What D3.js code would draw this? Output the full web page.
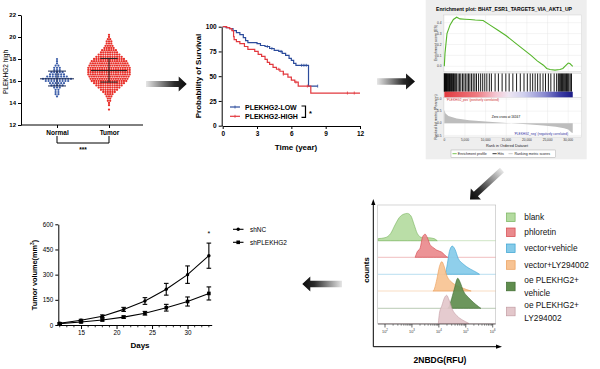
<!DOCTYPE html>
<html><head><meta charset="utf-8">
<script src="https://cdn.jsdelivr.net/npm/d3@7"></script>
<style>body{margin:0;background:#fff}svg{display:block;font-family:"Liberation Sans",Arial,sans-serif}</style>
</head><body><svg id="c" width="600" height="369"></svg>
<script>
// ---------- DATA ----------
// Panel A: expression scatter (value, number of samples at that value)
const scatterGroups = ["Normal", "Tumor"];
const scatterTicks = [12, 14, 16, 18, 20, 22];
const normalBins = [[14.6,1],[14.8,2],[15.0,2],[15.2,2],[15.4,3],[15.6,5],[15.8,6],[16.0,9],[16.2,11],[16.4,8],[16.6,6],[16.8,5],[17.0,3],[17.2,3],[17.4,2],[17.6,1],[17.8,1],[18.0,1]];
const tumorBins = [[13.4,1],[13.8,1],[14.0,1],[14.2,2],[14.4,2],[14.6,3],[14.8,4],[15.0,6],[15.2,8],[15.4,10],[15.6,12],[15.8,14],[16.0,16],[16.2,17],[16.4,18],[16.6,19],[16.8,19],[17.0,19],[17.2,19],[17.4,18],[17.6,17],[17.8,16],[18.0,14],[18.2,12],[18.4,10],[18.6,8],[18.8,7],[19.0,5],[19.2,4],[19.4,3],[19.6,3],[19.8,2],[20.0,1],[20.2,1]];
const normalStats = [16.2, 15.55, 16.9];   // mean, -SD, +SD
const tumorStats = [16.95, 15.9, 18.05];

// Panel B: Kaplan-Meier (time in years, survival %)
const kmTicksX = [0, 3, 6, 9, 12];
const kmTicksY = [0, 25, 50, 75, 100];
const kmLow = [[0,100],[0.3,99],[0.6,98],[0.9,96],[1.2,94],[1.5,92],[1.8,89],[2.0,86],[2.2,84],[3.0,83],[3.3,81],[3.7,80],[4.1,78],[4.5,76],[4.9,75],[5.2,73],[5.5,71],[5.8,68],[6.0,66],[6.2,63],[6.4,61],[7.5,40],[8.3,40]];
const kmHigh = [[0,100],[0.35,99],[0.6,98],[0.8,96],[0.95,90],[1.0,87],[1.2,85],[1.5,83],[1.9,80],[2.2,77],[2.8,75],[3.1,72],[3.4,70],[3.7,67],[3.9,64],[4.1,62],[4.4,59],[4.7,57],[5.0,55],[5.3,52],[5.7,49],[6.0,46],[6.3,44],[6.6,40],[7.7,33],[12,33]];
const kmLowCensor = [3.9, 4.3, 5.1, 6.9, 7.1, 7.3, 8.3];
const kmHighCensor = [4.9, 5.3, 6.4, 7.4, 10.9, 11.5];
const kmLabels = ["PLEKHG2-LOW", "PLEKHG2-HIGH"];

// Panel C: GSEA
const gseaTitle = "Enrichment plot: BHAT_ESR1_TARGETS_VIA_AKT1_UP";
const esCurve = [[0,0],[170,0.12],[650,0.30],[1400,0.38],[2200,0.43],[3000,0.45],[3800,0.435],[5000,0.432],[6200,0.43],[7500,0.425],[9400,0.42],[11000,0.38],[13000,0.33],[15000,0.28],[17000,0.22],[19000,0.16],[21000,0.10],[22500,0.05],[24000,0.01],[24800,-0.02],[25600,-0.03],[26800,-0.035],[28000,-0.03],[28700,-0.02],[29200,0.0],[30000,0.03],[30400,0.025],[31100,0.0]];
const gseaHits = [0,80,180,300,420,540,680,820,960,1100,1250,1400,1560,1720,1880,2050,2220,2400,2600,2800,3000,3350,3700,4000,4400,4750,5100,5500,5850,6200,6600,7000,7400,7800,8300,8800,9300,9800,10300,10900,11400,12300,13100,14000,14900,15700,16600,17500,18400,19300,20100,20800,21400,22000,22600,23200,23900,24500,25200,25800,26600,27200,27600,27800,28000,28200,28400,28600,28800,29000,29200,29400,29600,29800,30000,30200,30500,30800];
const rankedMetric = [[0,0.55],[300,0.4],[1000,0.3],[3000,0.2],[6000,0.13],[10000,0.07],[16167,0],[20000,-0.04],[24000,-0.09],[27000,-0.14],[29000,-0.2],[30000,-0.26],[30800,-0.38],[31100,-0.4]];
const esTicks = [0, 0.1, 0.2, 0.3, 0.4];
const rankTicks = [1.0, 0.5, 0.0, -0.5];
const rankXTicks = [0, 5000, 10000, 15000, 20000, 25000, 30000];
const gseaLegend = ["Enrichment profile", "Hits", "Ranking metric scores"];

// Panel D: flow cytometry histograms (log10 RFU, relative count)
const flowGroups = ["blank", "phloretin", "vector+vehicle", "vector+LY294002", "oe PLEKHG2+\nvehicle", "oe PLEKHG2+\nLY294002"];
const flowCurves = [
  [[1.75,7],[2.0,10],[2.21,24],[2.37,52],[2.53,77],[2.71,89],[2.83,91],[2.96,83],[3.08,54],[3.20,24],[3.36,11],[3.61,10],[3.82,7],[3.94,0]],
  [[3.12,0],[3.20,19],[3.30,30],[3.40,69],[3.49,77],[3.57,66],[3.67,43],[3.80,32],[3.92,24],[4.11,17],[4.29,2],[4.33,0]],
  [[4.20,0],[4.23,2],[4.32,37],[4.39,76],[4.50,94],[4.60,83],[4.72,53],[4.91,34],[5.16,18],[5.41,6],[5.51,0]],
  [[3.78,0],[3.80,1],[3.92,37],[4.02,81],[4.11,98],[4.19,84],[4.29,53],[4.48,29],[4.67,18],[4.91,9],[5.16,1],[5.2,0]],
  [[4.33,0],[4.35,1],[4.44,22],[4.57,63],[4.70,100],[4.79,87],[4.91,58],[5.10,36],[5.28,20],[5.47,6],[5.56,0]],
  [[3.98,0],[4.02,33],[4.11,59],[4.21,86],[4.29,94],[4.38,78],[4.50,47],[4.67,26],[4.89,11],[5.10,1],[5.12,0]]
];
const flowDecades = [2, 3, 4, 5, 6];

// Panel E: tumor growth
const days = [12, 15, 18, 21, 24, 27, 30, 33];
const shNC = [10, 28, 52, 93, 143, 213, 300, 413];
const shNCErr = [4, 6, 8, 12, 20, 35, 52, 75];
const shPL = [8, 18, 30, 47, 70, 103, 140, 188];
const shPLErr = [4, 5, 6, 7, 11, 20, 27, 39];
const volTicks = [0, 150, 300, 450, 600];
const dayTicks = [15, 20, 25, 30];
const tumorSeries = ["shNC", "shPLEKHG2"];

// ---------- DRAW ----------
const svg = d3.select("#c");
const defs = svg.append("defs");
svg.append("rect").attr("width", 600).attr("height", 369).attr("fill", "#fff");
const FONT = "Liberation Sans, Arial, sans-serif";

function styleAxis(g, fs, bold) {
  g.attr("font-family", FONT).attr("font-size", fs);
  g.select(".domain").attr("stroke", "#000").attr("stroke-width", 1);
  g.selectAll(".tick line").attr("stroke", "#000").attr("stroke-width", 1);
  g.selectAll(".tick text").attr("fill", "#000").attr("font-weight", bold ? "bold" : "normal");
}
function txt(g, x, y, s, fs, opts = {}) {
  const t = g.append("text").attr("x", x).attr("y", y).attr("font-size", fs).attr("font-family", FONT)
    .attr("fill", opts.fill || "#000").attr("text-anchor", opts.anchor || "start")
    .attr("font-weight", opts.bold ? "bold" : "normal").text(s);
  if (opts.rot) t.attr("transform", `rotate(${opts.rot},${x},${y})`);
  return t;
}

// ===== Panel A =====
const pA = svg.append("g");
const yA = d3.scaleLinear().domain([12, 22]).range([125, 15]);
const xA = d3.scalePoint().domain(scatterGroups).range([57, 109]);
pA.append("g").attr("transform", "translate(21,0)")
  .call(d3.axisLeft(yA).tickValues(scatterTicks).tickSize(3).tickSizeOuter(0).tickPadding(2))
  .call(g => styleAxis(g, 6, true));
pA.append("line").attr("x1", 21).attr("x2", 143).attr("y1", 125).attr("y2", 125).attr("stroke", "#000");
pA.append("g").attr("transform", "translate(0,125)")
  .call(d3.axisBottom(xA).tickSize(3).tickSizeOuter(0).tickPadding(2))
  .call(g => { styleAxis(g, 6.5, true); g.select(".domain").remove(); });
txt(pA, 8, 72, "PLEKHG2 high", 6.5, { anchor: "middle", rot: -90 });

function swarm(bins, cat, sp) {
  const pts = [];
  bins.forEach(([v, n]) => { for (let i = 0; i < n; i++) pts.push([xA(cat) + (i - (n - 1) / 2) * sp, yA(v)]); });
  return pts;
}
pA.append("g").selectAll("circle").data(swarm(normalBins, "Normal", 2.8)).join("circle")
  .attr("cx", d => d[0]).attr("cy", d => d[1]).attr("r", 1.1).attr("fill", "#3a5ca8");
pA.append("g").selectAll("circle").data(swarm(tumorBins, "Tumor", 2.3)).join("circle")
  .attr("cx", d => d[0]).attr("cy", d => d[1]).attr("r", 1.15).attr("fill", "#e8302a");
function statBars(cat, st, mw, cw, col) {
  const cx = xA(cat);
  pA.append("line").attr("x1", cx - mw).attr("x2", cx + mw).attr("y1", yA(st[0])).attr("y2", yA(st[0])).attr("stroke", col).attr("stroke-width", 1);
  [st[1], st[2]].forEach(v => pA.append("line").attr("x1", cx - cw).attr("x2", cx + cw).attr("y1", yA(v)).attr("y2", yA(v)).attr("stroke", col).attr("stroke-width", 1));
  pA.append("line").attr("x1", cx).attr("x2", cx).attr("y1", yA(st[1])).attr("y2", yA(st[2])).attr("stroke", col).attr("stroke-width", 1);
}
statBars("Normal", normalStats, 17, 9, "#1b2b55");
statBars("Tumor", tumorStats, 18, 8.7, "#222");
pA.append("path").attr("d", `M${xA("Normal")},136V143H${xA("Tumor")}V136`).attr("fill", "none").attr("stroke", "#000").attr("stroke-width", 1);
txt(pA, (xA("Normal") + xA("Tumor")) / 2, 152, "***", 6.5, { anchor: "middle", bold: true });

// ===== Panel B : KM =====
const pB = svg.append("g");
const xB = d3.scaleLinear().domain([0, 12]).range([222.7, 360]);
const yB = d3.scaleLinear().domain([0, 100]).range([125.7, 26.7]);
pB.append("g").attr("transform", "translate(221.7,0)")
  .call(d3.axisLeft(yB).tickValues(kmTicksY).tickSize(3).tickSizeOuter(0).tickPadding(2))
  .call(g => styleAxis(g, 6.5, true));
pB.append("g").attr("transform", "translate(0,126)")
  .call(d3.axisBottom(xB).tickValues(kmTicksX).tickSize(3).tickSizeOuter(0).tickPadding(2))
  .call(g => styleAxis(g, 6.5, true));
pB.select("g:last-child .domain");
pB.append("line").attr("x1", 221.7).attr("x2", 222.7).attr("y1", 126).attr("y2", 126).attr("stroke", "#000");
txt(pB, 296, 150, "Time (year)", 8, { anchor: "middle", bold: true });
txt(pB, 200.5, 76, "Probability of Survival", 8, { anchor: "middle", bold: true, rot: -90 });
const kmLine = d3.line().x(d => xB(d[0])).y(d => yB(d[1])).curve(d3.curveStepAfter);
const kmCols = ["#2c4c9c", "#e2383e"];
[kmLow, kmHigh].forEach((s, i) => pB.append("path").attr("d", kmLine(s)).attr("fill", "none").attr("stroke", kmCols[i]).attr("stroke-width", 1.2));
function survAt(s, t) { let v = s[0][1]; s.forEach(p => { if (p[0] <= t) v = p[1]; }); return v; }
[[kmLowCensor, kmLow], [kmHighCensor, kmHigh]].forEach(([c, s], i) => {
  pB.append("g").selectAll("line").data(c).join("line")
    .attr("x1", d => xB(d)).attr("x2", d => xB(d)).attr("y1", d => yB(survAt(s, d)) - 1.5).attr("y2", d => yB(survAt(s, d)) + 1.5)
    .attr("stroke", kmCols[i]).attr("stroke-width", 0.8);
});
kmLabels.forEach((l, i) => {
  const y = 107 + i * 9.3;
  pB.append("line").attr("x1", 230).attr("x2", 240).attr("y1", y).attr("y2", y).attr("stroke", kmCols[i]).attr("stroke-width", 1.2);
  pB.append("line").attr("x1", 235).attr("x2", 235).attr("y1", y - 1.5).attr("y2", y + 1.5).attr("stroke", kmCols[i]).attr("stroke-width", 0.8);
  txt(pB, 245, y + 2.5, l, 7, { bold: true });
});
pB.append("path").attr("d", "M301.5,106H305.5V117.3H301.5").attr("fill", "none").attr("stroke", "#000").attr("stroke-width", 1.2);
txt(pB, 309, 116, "*", 7.5, { bold: true });

// ===== Panel C : GSEA =====
const pC = svg.append("g");
pC.append("rect").attr("x", 425.7).attr("y", 0).attr("width", 161).attr("height", 159.3).attr("fill", "#eeeeee");
txt(pC, 504, 11, gseaTitle, 5.1, { anchor: "middle", bold: true });
const xC = d3.scaleLinear().domain([0, 30000]).range([444.3, 568.2]);
const yES = d3.scaleLinear().domain([0, 0.4]).range([66.3, 22.7]);
const yR = d3.scaleLinear().domain([0, 1]).range([123.3, 99]);
const CL = 443.7, CR = 581.7;
[[15, 71.7], [73.3, 97.3], [97.3, 137]].forEach(([a, b]) =>
  pC.append("rect").attr("x", CL).attr("y", a).attr("width", CR - CL).attr("height", b - a).attr("fill", "#fff").attr("stroke", "#c8c8c8").attr("stroke-width", 0.4));
// grid
rankXTicks.forEach(t => {
  [[15, 71.7], [97.3, 137]].forEach(([a, b]) => pC.append("line").attr("x1", xC(t)).attr("x2", xC(t)).attr("y1", a).attr("y2", b).attr("stroke", "#e4e4e4").attr("stroke-width", 0.4));
});
esTicks.forEach(t => pC.append("line").attr("x1", CL).attr("x2", CR).attr("y1", yES(t)).attr("y2", yES(t)).attr("stroke", "#e4e4e4").attr("stroke-width", 0.4));
rankTicks.forEach(t => pC.append("line").attr("x1", CL).attr("x2", CR).attr("y1", yR(t)).attr("y2", yR(t)).attr("stroke", "#e4e4e4").attr("stroke-width", 0.4));
// ES line
pC.append("path").attr("d", d3.line().x(d => xC(d[0])).y(d => yES(d[1]))(esCurve)).attr("fill", "none").attr("stroke", "#55b52a").attr("stroke-width", 1.1);
// hits
pC.append("g").selectAll("line").data(gseaHits).join("line")
  .attr("x1", d => xC(d)).attr("x2", d => xC(d)).attr("y1", 73.5).attr("y2", 91.7).attr("stroke", "#000").attr("stroke-width", 0.9);
// color bar
const cg = defs.append("linearGradient").attr("id", "rb");
[[0, "#e23a3f"], [0.25, "#ee7a80"], [0.4, "#f4c6d2"], [0.5, "#eee6f2"], [0.62, "#cfcfee"], [0.78, "#8a8ad0"], [0.9, "#3d3da6"], [1, "#1b1b86"]]
  .forEach(([o, c]) => cg.append("stop").attr("offset", o).attr("stop-color", c));
pC.append("rect").attr("x", xC(0)).attr("y", 91.7).attr("width", xC(31100) - xC(0)).attr("height", 5.6).attr("fill", "url(#rb)");
// ranked metric
pC.append("path").attr("d", d3.area().x(d => xC(d[0])).y0(yR(0)).y1(d => yR(d[1]))(rankedMetric)).attr("fill", "#bdbdbd");
txt(pC, 506, 117.5, "Zero cross at 16167", 3.2, { anchor: "middle" });
txt(pC, 446.5, 101.3, "'PLEKHG2_pos' (positively correlated)", 3.1, { fill: "#d0302f" });
txt(pC, 568, 134.5, "'PLEKHG2_neg' (negatively correlated)", 3.1, { fill: "#3030a0", anchor: "end" });
// ticks
esTicks.forEach(t => txt(pC, 441.5, yES(t) + 1.1, t.toFixed(1), 3.2, { anchor: "end", fill: "#333" }));
rankTicks.forEach(t => txt(pC, 441.5, yR(t) + 1.1, t.toFixed(1), 3.2, { anchor: "end", fill: "#333" }));
rankXTicks.forEach(t => txt(pC, xC(t), 141.2, d3.format(",")(t), 3.2, { anchor: "middle", fill: "#333" }));
txt(pC, 507, 146.8, "Rank in Ordered Dataset", 3.8, { anchor: "middle", fill: "#222" });
txt(pC, 436.5, 43, "Enrichment score (ES)", 3.6, { anchor: "middle", rot: -90, fill: "#222" });
txt(pC, 436.5, 117, "Ranked list metric (Pearson)", 3.6, { anchor: "middle", rot: -90, fill: "#222" });
// legend
pC.append("rect").attr("x", 451).attr("y", 150).attr("width", 104.7).attr("height", 7.3).attr("fill", "#fff").attr("stroke", "#999").attr("stroke-width", 0.4);
const glx = [[452.5, 457.8, "#55b52a"], [492.5, 497.6, "#000"], [508.5, 514.5, "#bbb"]];
gseaLegend.forEach((l, i) => {
  pC.append("line").attr("x1", glx[i][0]).attr("x2", glx[i][0] + 4.2).attr("y1", 153.7).attr("y2", 153.7).attr("stroke", glx[i][2]).attr("stroke-width", 0.8);
  txt(pC, glx[i][1], 155, l, 3.6, { fill: "#222" });
});

// ===== Panel D : flow =====
const pD = svg.append("g");
const xD = d3.scaleLinear().domain([2, 6]).range([385, 492.7]);
const hD = d3.scaleLinear().domain([0, 100]).range([0, 30]);
const baselines = [240.7, 257.3, 274.3, 291, 308.3, 323.5];
const fFill = ["#b4dba0", "#ea8a8d", "#86cbe9", "#f7c393", "#5f8d4e", "#e3c7cb"];
const fStroke = ["#77b35c", "#d4474c", "#3aa3d2", "#eb9c55", "#3c6a2e", "#c29ba2"];
pD.append("rect").attr("x", 377.7).attr("y", 205).attr("width", 118).attr("height", 119).attr("fill", "#fff").attr("stroke", "#bbb").attr("stroke-width", 0.6);
flowCurves.forEach((c, i) => {
  const b = baselines[i];
  pD.append("line").attr("x1", 378).attr("x2", 495.5).attr("y1", b).attr("y2", b).attr("stroke", fStroke[i]).attr("stroke-opacity", 0.45).attr("stroke-width", 0.8);
  const ar = d3.area().x(d => xD(d[0])).y0(b).y1(d => b - hD(d[1])).curve(d3.curveMonotoneX);
  pD.append("path").attr("d", ar(c)).attr("fill", fFill[i]).attr("fill-opacity", 0.92).attr("stroke", fStroke[i]).attr("stroke-width", 0.6);
});
// ticks on bottom
flowDecades.forEach((d, i) => {
  pD.append("line").attr("x1", xD(d)).attr("x2", xD(d)).attr("y1", 324).attr("y2", 327.5).attr("stroke", "#000").attr("stroke-width", 0.6);
  if (i < flowDecades.length - 1) for (let k = 2; k < 10; k++) {
    const xv = xD(d + Math.log10(k));
    pD.append("line").attr("x1", xv).attr("x2", xv).attr("y1", 324).attr("y2", 325.8).attr("stroke", "#000").attr("stroke-width", 0.4);
  }
  const t = pD.append("text").attr("x", xD(d)).attr("y", 333).attr("font-size", 3.8).attr("font-family", FONT).attr("text-anchor", "middle").attr("fill", "#333");
  t.append("tspan").text("10");
  t.append("tspan").attr("dy", -1.6).attr("font-size", 2.8).text(d);
});
pD.append("line").attr("x1", 378).attr("x2", 495.5).attr("y1", 324).attr("y2", 324).attr("stroke", "#000").attr("stroke-width", 0.5);
// arrow axes
pD.append("path").attr("d", "M373.3,346.7V203").attr("stroke", "#000").attr("stroke-width", 1).attr("fill", "none");
pD.append("path").attr("d", "M373.3,346.7H498").attr("stroke", "#000").attr("stroke-width", 1).attr("fill", "none");
pD.append("path").attr("d", "M373.3,199L371.2,205L375.4,205Z").attr("fill", "#000");
pD.append("path").attr("d", "M502,346.7L496,344.6L496,348.8Z").attr("fill", "#000");
txt(pD, 369, 270, "counts", 7.8, { anchor: "middle", bold: true, rot: -90 });
txt(pD, 440, 363, "2NBDG(RFU)", 8.5, { anchor: "middle", bold: true });
// legend
const legSq = [217.3, 232.3, 248.3, 265, 286.5, 311.5];
flowGroups.forEach((g, i) => {
  pD.append("rect").attr("x", 506.5).attr("y", legSq[i] - 4.3).attr("width", 8.6).attr("height", 8.6).attr("fill", fFill[i]).attr("stroke", fStroke[i]).attr("stroke-width", 0.7);
  const lines = g.split("\n");
  lines.forEach((l, j) => {
    const yy = legSq[i] + 3 + (j - (lines.length - 1) / 2) * 12.5;
    txt(pD, 524.3, yy, l, 8.3, { fill: "#111" });
  });
});

// ===== Panel E : tumor volume =====
const pE = svg.append("g");
const xE = d3.scaleLinear().domain([11.8, 33.4]).range([58.3, 211.7]);
const yE = d3.scaleLinear().domain([0, 600]).range([325, 224.3]);
pE.append("g").attr("transform", "translate(58.3,0)")
  .call(d3.axisLeft(yE).tickValues(volTicks).tickSize(3).tickSizeOuter(0).tickPadding(2))
  .call(g => styleAxis(g, 6.3, false));
pE.append("g").attr("transform", "translate(0,325)")
  .call(d3.axisBottom(xE).tickValues(dayTicks).tickSize(4).tickSizeOuter(0).tickPadding(1.5))
  .call(g => styleAxis(g, 6.3, false));
d3.range(12, 34).filter(d => !dayTicks.includes(d)).forEach(d =>
  pE.append("line").attr("x1", xE(d)).attr("x2", xE(d)).attr("y1", 325).attr("y2", 327.3).attr("stroke", "#000").attr("stroke-width", 0.8));
txt(pE, 140, 348, "Days", 8, { anchor: "middle", bold: true });
const yl = txt(pE, 36.5, 275, "Tumor volume(mm", 7.3, { anchor: "middle", bold: true, rot: -90 });
yl.append("tspan").attr("dy", -2.5).attr("font-size", 5).text("3");
yl.append("tspan").attr("dy", 2.5).text(")");
const ln = d3.line().x((d, i) => xE(days[i])).y(d => yE(d));
[[shNC, shNCErr], [shPL, shPLErr]].forEach(([s, e], k) => {
  pE.append("path").attr("d", ln(s)).attr("fill", "none").attr("stroke", "#000").attr("stroke-width", 1.1);
  s.forEach((v, i) => {
    const x = xE(days[i]);
    pE.append("line").attr("x1", x).attr("x2", x).attr("y1", yE(v - e[i])).attr("y2", yE(v + e[i])).attr("stroke", "#000").attr("stroke-width", 1.1);
    [v - e[i], v + e[i]].forEach(w => pE.append("line").attr("x1", x - 2.3).attr("x2", x + 2.3).attr("y1", yE(w)).attr("y2", yE(w)).attr("stroke", "#000").attr("stroke-width", 1.1));
    if (k === 0) pE.append("circle").attr("cx", x).attr("cy", yE(v)).attr("r", 1.7).attr("fill", "#000");
    else pE.append("rect").attr("x", x - 1.8).attr("y", yE(v) - 1.8).attr("width", 3.6).attr("height", 3.6).attr("fill", "#000");
  });
});
txt(pE, xE(33), 236, "*", 7, { anchor: "middle" });
tumorSeries.forEach((s, k) => {
  const y = 229.3 + k * 13;
  pE.append("line").attr("x1", 233).attr("x2", 243.5).attr("y1", y).attr("y2", y).attr("stroke", "#000").attr("stroke-width", 1.1);
  if (k === 0) pE.append("circle").attr("cx", 238.2).attr("cy", y).attr("r", 1.7).attr("fill", "#000");
  else pE.append("rect").attr("x", 236.4).attr("y", y - 1.8).attr("width", 3.6).attr("height", 3.6).attr("fill", "#000");
  txt(pE, 250, y + 2.2, s, 6.5);
});

// ===== Arrows =====
function arrow(id, x1, y1, x2, y2, sw, hw, hl) {
  const dx = x2 - x1, dy = y2 - y1, len = Math.hypot(dx, dy), ang = Math.atan2(dy, dx) * 180 / Math.PI;
  const gr = defs.append("linearGradient").attr("id", id).attr("gradientUnits", "userSpaceOnUse")
    .attr("x1", 0).attr("y1", 0).attr("x2", len).attr("y2", 0);
  [[0, "#e6e6e6"], [0.35, "#8a8a8a"], [0.7, "#2a2a2a"], [1, "#0a0a0a"]].forEach(([o, c]) => gr.append("stop").attr("offset", o).attr("stop-color", c));
  const p = [[0, -sw / 2], [len - hl, -sw / 2], [len - hl, -hw / 2], [len, 0], [len - hl, hw / 2], [len - hl, sw / 2], [0, sw / 2]];
  svg.append("path").attr("transform", `translate(${x1},${y1}) rotate(${ang})`).attr("d", "M" + p.join("L") + "Z").attr("fill", `url(#${id})`);
}
arrow("a1", 146, 84, 186.7, 84, 6, 15, 8);
arrow("a2", 377, 81.5, 415, 81.5, 6.5, 16, 9);
arrow("a3", 502, 170, 470, 199.5, 6, 15, 8);
arrow("a4", 342, 284, 302.3, 284, 6.5, 15, 8);
</script></body></html>
